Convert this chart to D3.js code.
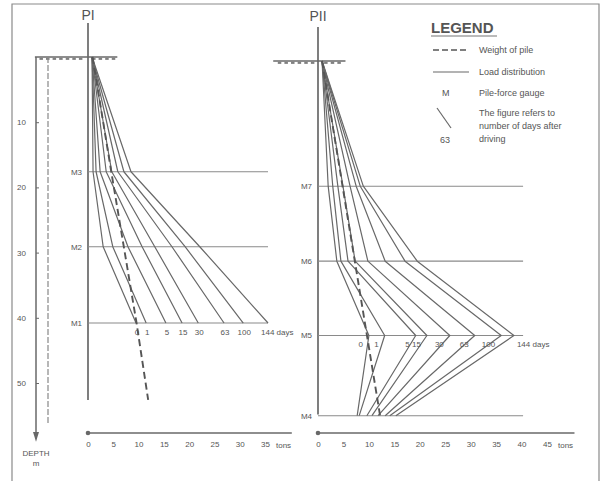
<!DOCTYPE html>
<html>
<head>
<meta charset="utf-8">
<script src="https://cdn.jsdelivr.net/npm/d3@7"></script>
<style>
  body { margin: 0; background: #fff; }
  svg { font-family: "Liberation Sans", Arial, sans-serif; }
  .lbl { fill: #555; font-size: 8px; }
  .leg { fill: #555; font-size: 9px; }
</style>
</head>
<body>
<div id="chart"></div>
<script>
// days after driving, one load curve each
const days = ['0', '1', '5', '15', '30', '63', '100', '144'];
const depthTicks = [10, 20, 30, 40, 50];

// pile I : depth (m) of ground and gauges, load (tons) per curve
const p1Depths = [0, 17.6, 29.1, 40.8];
const p1Gauges = ['M3', 'M2', 'M1'];
const p1Load = [
  [0.8, 1.0, 3.0, 9.5],
  [0.8, 1.6, 4.9, 11.5],
  [0.8, 2.4, 7.9, 15.4],
  [0.8, 3.6, 10.7, 18.6],
  [0.8, 4.7, 13.2, 21.8],
  [0.8, 5.9, 16.6, 26.9],
  [0.8, 7.1, 19.2, 30.7],
  [0.8, 8.5, 22.1, 35.6]
];
const p1WeightDepths = [0, 17.6, 40.8, 52.6];
const p1Weight = [0.9, 4.6, 9.6, 11.9];
const p1Ticks = [0, 5, 10, 15, 20, 25, 30, 35];

// pile II
const p2Depths = [0, 19.2, 30.7, 42.1, 54.4];
const p2Gauges = ['M7', 'M6', 'M5', 'M4'];
const p2Load = [
  [0.8, 2.0, 3.7, 10.0, 7.7],
  [0.8, 2.9, 4.5, 13.1, 8.1],
  [0.8, 3.9, 5.9, 19.2, 9.6],
  [0.8, 4.9, 7.3, 21.4, 10.6],
  [0.8, 6.3, 9.8, 25.9, 11.8],
  [0.8, 7.5, 13.2, 30.8, 13.2],
  [0.8, 8.3, 17.1, 36.0, 14.1],
  [0.8, 8.9, 19.5, 38.5, 15.3]
];
const p2WeightDepths = [0, 54.4];
const p2Weight = [0.8, 12.2];
const p2Ticks = [0, 5, 10, 15, 20, 25, 30, 35, 40, 45];

const W = 603, H = 481;
const ink = '#686868';

const svg = d3.select('#chart').append('svg')
  .attr('width', W).attr('height', H);

// scan frame
svg.append('path')
  .attr('d', `M12,${H} L12,4 L599,4 L599,${H}`)
  .attr('fill', 'none').attr('stroke', '#8a8a8a').attr('stroke-width', 1.2);

const line = (xs, ys) => d3.line()
  .x(d => xs(d[0]))
  .y(d => ys(d[1]));

function panel(opt) {
  const x = d3.scaleLinear().domain([0, opt.maxTick]).range(opt.xRange);
  const y = d3.scaleLinear().domain([0, 50]).range(opt.yRange);
  const g = svg.append('g');

  // pile
  g.append('line')
    .attr('x1', x(0)).attr('x2', x(0))
    .attr('y1', y(opt.pileTop)).attr('y2', y(opt.pileBottom))
    .attr('stroke', ink).attr('stroke-width', 1.7);

  // ground surface with hatching
  g.append('line')
    .attr('x1', x(opt.ground[0])).attr('x2', x(opt.ground[1]))
    .attr('y1', y(0)).attr('y2', y(0))
    .attr('stroke', ink).attr('stroke-width', 1.5);
  const hatch = d3.range(opt.ground[0] + 0.9, opt.ground[1] - 0.5, 1.3)
    .filter(v => Math.abs(v) > 0.8);
  g.selectAll('.hatch').data(hatch).join('line')
    .attr('x1', d => x(d)).attr('x2', d => x(d) + 3.5)
    .attr('y1', y(0) + 1.8).attr('y2', y(0) + 1.8)
    .attr('stroke', '#808080').attr('stroke-width', 2.2);

  // gauge levels
  const gDepths = opt.depths.slice(1);
  g.selectAll('.gauge').data(gDepths).join('line')
    .attr('x1', x(0)).attr('x2', x(opt.gaugeEnd))
    .attr('y1', d => y(d)).attr('y2', d => y(d))
    .attr('stroke', '#8a8a8a').attr('stroke-width', 1.1);
  g.selectAll('.glabel').data(opt.gauges).join('text')
    .attr('class', 'lbl')
    .attr('x', x(0) - 6)
    .attr('y', (d, i) => y(gDepths[i]) + 3)
    .attr('text-anchor', 'end')
    .text(d => d);

  // load distribution curves
  g.selectAll('.curve').data(opt.load).join('path')
    .attr('d', vals => line(x, y)(vals.map((v, i) => [v, opt.depths[i]])))
    .attr('fill', 'none').attr('stroke', ink).attr('stroke-width', 1.2)
    .attr('stroke-linejoin', 'round');

  // weight of pile
  g.append('path')
    .attr('d', line(x, y)(opt.weight.map((v, i) => [v, opt.weightDepths[i]])))
    .attr('fill', 'none').attr('stroke', '#555').attr('stroke-width', 1.9)
    .attr('stroke-dasharray', '7,4');

  // day labels
  const k = opt.labelIndex;
  g.selectAll('.day').data(days).join('text')
    .attr('class', 'lbl')
    .attr('x', (d, i) => x(opt.load[i][k]) + (i === days.length - 1 ? opt.lastOffset : opt.labelOffset))
    .attr('y', y(opt.depths[k]) + 12)
    .attr('text-anchor', (d, i) => i === days.length - 1 ? 'start' : opt.anchor)
    .text((d, i) => i === days.length - 1 ? d + ' days' : d);

  // force axis
  const ay = opt.axisY;
  g.append('line')
    .attr('x1', x(-0.3)).attr('x2', x(opt.axisEnd))
    .attr('y1', ay).attr('y2', ay)
    .attr('stroke', ink).attr('stroke-width', 1.6);
  g.append('circle').attr('cx', x(0)).attr('cy', ay).attr('r', 2.3).attr('fill', ink);
  const ax = g.append('g')
    .attr('transform', `translate(0,${ay})`)
    .call(d3.axisBottom(x).tickValues(opt.ticks).tickSize(0).tickPadding(8));
  ax.select('.domain').remove();
  ax.selectAll('text').attr('class', 'lbl').attr('font-family', null).attr('font-size', null);
  g.append('text').attr('class', 'lbl')
    .attr('x', x(opt.maxTick) + 11).attr('y', ay + 15)
    .text('tons');

  // title
  g.append('text')
    .attr('x', x(0)).attr('y', opt.titleY)
    .attr('text-anchor', 'middle')
    .attr('fill', '#555').attr('font-size', 14)
    .text(opt.title);

  return { x, y };
}

const p1 = panel({
  title: 'PI', titleY: 20,
  maxTick: 35, xRange: [88, 265], yRange: [57, 383],
  depths: p1Depths, gauges: p1Gauges, load: p1Load,
  weight: p1Weight, weightDepths: p1WeightDepths,
  pileTop: -5.2, pileBottom: 52.6, ground: [-10.5, 5.8],
  gaugeEnd: 35.6, axisY: 433, axisEnd: 40.3, ticks: p1Ticks,
  labelIndex: 3, labelOffset: 1, lastOffset: -7, anchor: 'middle'
});

panel({
  title: 'PII', titleY: 21,
  maxTick: 45, xRange: [318, 547], yRange: [61, 387],
  depths: p2Depths, gauges: p2Gauges, load: p2Load,
  weight: p2Weight, weightDepths: p2WeightDepths,
  pileTop: -5.2, pileBottom: 54.2, ground: [-8.8, 5.4],
  gaugeEnd: 40.3, axisY: 433, axisEnd: 50.4, ticks: p2Ticks,
  labelIndex: 3, labelOffset: -6, lastOffset: 3, anchor: 'end'
});

// depth axis on the left
const dy = p1.y;
const dAxis = svg.append('g')
  .attr('transform', 'translate(36,0)')
  .call(d3.axisLeft(dy).tickValues(depthTicks).tickSizeInner(-3).tickSizeOuter(0).tickPadding(10));
dAxis.select('.domain').remove();
dAxis.selectAll('line').attr('stroke', ink);
dAxis.selectAll('text').attr('class', 'lbl').attr('font-family', null).attr('font-size', null);
svg.append('line')
  .attr('x1', 36).attr('x2', 36).attr('y1', dy(0)).attr('y2', dy(57.5))
  .attr('stroke', ink).attr('stroke-width', 1.5);
svg.append('path')
  .attr('d', `M33,${dy(57.5)} L39,${dy(57.5)} L36,${dy(59)} Z`)
  .attr('fill', ink);
svg.append('line')
  .attr('x1', 48).attr('x2', 48).attr('y1', dy(0)).attr('y2', dy(56.2))
  .attr('stroke', '#888').attr('stroke-width', 1.2).attr('stroke-dasharray', '6,2');
svg.append('text').attr('class', 'lbl').attr('x', 36).attr('y', dy(61.2))
  .attr('text-anchor', 'middle').text('DEPTH');
svg.append('text').attr('class', 'lbl').attr('x', 36).attr('y', dy(62.8))
  .attr('text-anchor', 'middle').text('m');

// legend
const lg = svg.append('g').attr('transform', 'translate(431,0)');
lg.append('text').attr('x', 0).attr('y', 33)
  .attr('fill', '#555').attr('font-size', 15).attr('font-weight', 'bold').text('LEGEND');
lg.append('line').attr('x1', 0).attr('x2', 66).attr('y1', 36).attr('y2', 36)
  .attr('stroke', '#777').attr('stroke-width', 1.2);
lg.append('line').attr('x1', 2).attr('x2', 38).attr('y1', 50).attr('y2', 50)
  .attr('stroke', '#555').attr('stroke-width', 1.7).attr('stroke-dasharray', '6,3');
lg.append('text').attr('class', 'leg').attr('x', 48).attr('y', 53).text('Weight of pile');
lg.append('line').attr('x1', 2).attr('x2', 38).attr('y1', 72).attr('y2', 72)
  .attr('stroke', ink).attr('stroke-width', 1.2);
lg.append('text').attr('class', 'leg').attr('x', 48).attr('y', 75).text('Load distribution');
lg.append('text').attr('class', 'leg').attr('x', 11).attr('y', 96).text('M');
lg.append('text').attr('class', 'leg').attr('x', 48).attr('y', 96).text('Pile-force gauge');
lg.append('line').attr('x1', 6).attr('x2', 20).attr('y1', 108).attr('y2', 128)
  .attr('stroke', ink).attr('stroke-width', 1.2);
lg.append('text').attr('class', 'leg').attr('x', 14).attr('y', 143)
  .attr('text-anchor', 'middle').text('63');
lg.append('text').attr('class', 'leg').attr('x', 48).attr('y', 116).text('The figure refers to');
lg.append('text').attr('class', 'leg').attr('x', 48).attr('y', 129).text('number of days after');
lg.append('text').attr('class', 'leg').attr('x', 48).attr('y', 142).text('driving');
</script>
</body>
</html>
